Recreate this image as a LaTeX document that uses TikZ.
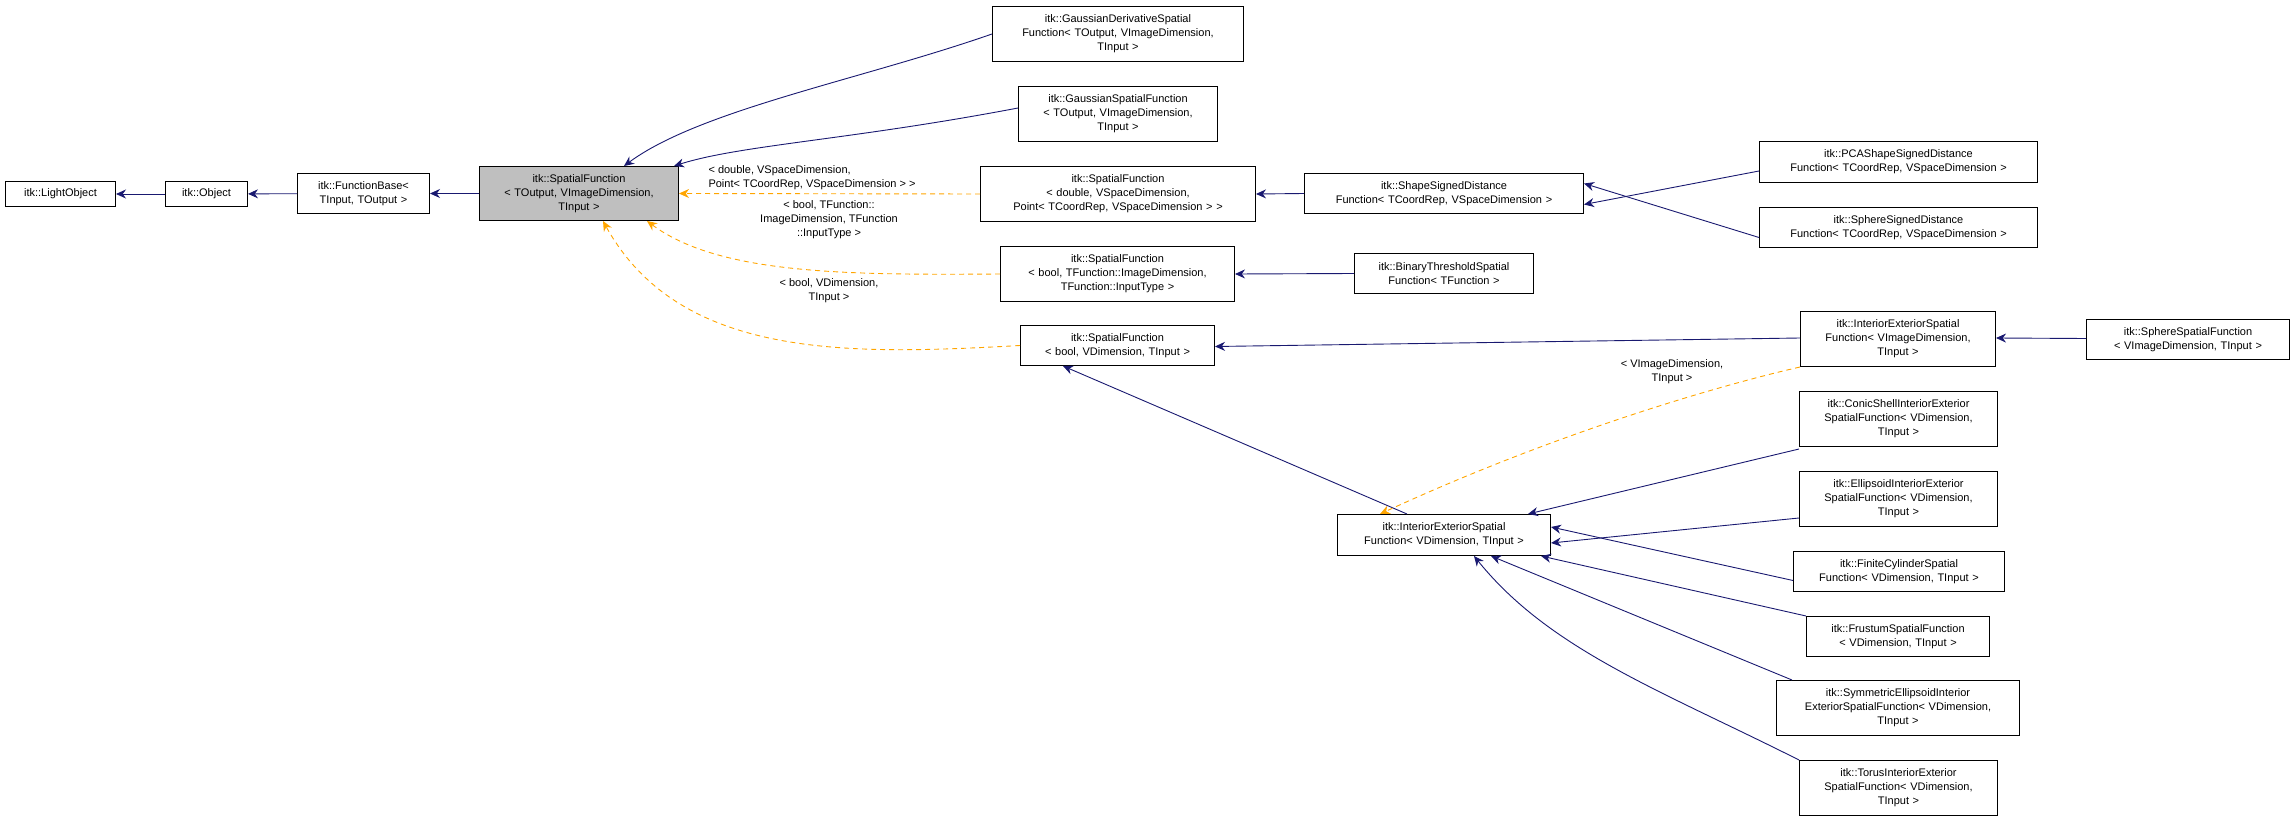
\documentclass[tikz,border=0pt]{standalone}
\usepackage{fontspec}
\setmainfont{Liberation Sans}
\usetikzlibrary{arrows.meta}
\definecolor{edge}{HTML}{191970}
\definecolor{dep}{HTML}{FFA500}
\begin{document}
\begin{tikzpicture}[x=1pt,y=-1pt,
  box/.style={draw=black,line width=1pt,fill=white,anchor=north west,align=center,inner sep=2pt,
    font=\fontsize{11}{14}\selectfont},
  inh/.style={draw=edge,line width=0.9pt,-{Stealth[length=10pt,width=9pt]}},
  tpl/.style={draw=dep,line width=0.9pt,dashed,dash pattern=on 5pt off 4pt,-{Stealth[length=10pt,width=9pt]}},
  lbl/.style={font=\fontsize{11}{14}\selectfont,align=center}]
\useasboundingbox (0,0) rectangle (2291,821);
\newcommand{\bx}[7][]{\node[box,#1,minimum width=#4pt,minimum height=#5pt,text width=#6pt] (#2) at #3 {#7};}
\bx{lo}{(5,181)}{110}{25}{100}{itk::LightObject}
\bx{obj}{(165,181)}{82}{25}{74}{itk::Object}
\bx{fb}{(297,173)}{132}{40}{124}{itk::FunctionBase\textless\\TInput, TOutput \textgreater}
\bx[fill=black!25]{main}{(479,166)}{199}{54}{190}{itk::SpatialFunction\\\textless{} TOutput, VImageDimension,\\TInput \textgreater}
\bx{gd}{(992,6)}{251}{55}{242}{itk::GaussianDerivativeSpatial\\Function\textless{} TOutput, VImageDimension,\\TInput \textgreater}
\bx{gs}{(1018,86)}{199}{55}{190}{itk::GaussianSpatialFunction\\\textless{} TOutput, VImageDimension,\\TInput \textgreater}
\bx{sfd}{(980,166)}{275}{55}{266}{itk::SpatialFunction\\\textless{} double, VSpaceDimension,\\Point\textless{} TCoordRep, VSpaceDimension \textgreater{} \textgreater}
\bx{ssd}{(1304,173)}{279}{40}{270}{itk::ShapeSignedDistance\\Function\textless{} TCoordRep, VSpaceDimension \textgreater}
\bx{pca}{(1759,141)}{278}{41}{270}{itk::PCAShapeSignedDistance\\Function\textless{} TCoordRep, VSpaceDimension \textgreater}
\bx{sph}{(1759,207)}{278}{40}{270}{itk::SphereSignedDistance\\Function\textless{} TCoordRep, VSpaceDimension \textgreater}
\bx{sfb}{(1000,246)}{234}{55}{226}{itk::SpatialFunction\\\textless{} bool, TFunction::ImageDimension,\\TFunction::InputType \textgreater}
\bx{bin}{(1354,253)}{179}{40}{171}{itk::BinaryThresholdSpatial\\Function\textless{} TFunction \textgreater}
\bx{sfv}{(1020,325)}{194}{40}{186}{itk::SpatialFunction\\\textless{} bool, VDimension, TInput \textgreater}
\bx{iei}{(1800,311)}{195}{55}{187}{itk::InteriorExteriorSpatial\\Function\textless{} VImageDimension,\\TInput \textgreater}
\bx{ssf}{(2086,319)}{203}{40}{195}{itk::SphereSpatialFunction\\\textless{} VImageDimension, TInput \textgreater}
\bx{iev}{(1337,514)}{213}{41}{205}{itk::InteriorExteriorSpatial\\Function\textless{} VDimension, TInput \textgreater}
\bx{con}{(1799,391)}{198}{55}{190}{itk::ConicShellInteriorExterior\\SpatialFunction\textless{} VDimension,\\TInput \textgreater}
\bx{ell}{(1799,471)}{198}{55}{190}{itk::EllipsoidInteriorExterior\\SpatialFunction\textless{} VDimension,\\TInput \textgreater}
\bx{fin}{(1793,551)}{211}{40}{203}{itk::FiniteCylinderSpatial\\Function\textless{} VDimension, TInput \textgreater}
\bx{fru}{(1806,616)}{183}{40}{175}{itk::FrustumSpatialFunction\\\textless{} VDimension, TInput \textgreater}
\bx{sym}{(1776,680)}{243}{55}{235}{itk::SymmetricEllipsoidInterior\\ExteriorSpatialFunction\textless{} VDimension,\\TInput \textgreater}
\bx{tor}{(1799,760)}{198}{55}{190}{itk::TorusInteriorExterior\\SpatialFunction\textless{} VDimension,\\TInput \textgreater}
% inheritance
\draw[inh] (obj) -- (lo);
\draw[inh] (fb) -- (obj);
\draw[inh] (main) -- (fb);
\draw[inh] (gd.west) .. controls (860,80) and (700,110) .. ([xshift=-55pt]main.north east);
\draw[inh] ([yshift=6pt]gs.west) .. controls (850,140) and (740,145) .. ([xshift=-5pt]main.north east);
\draw[inh] (ssd.west) -- (sfd.east);
\draw[inh] ([yshift=-9pt]pca.west) -- ([yshift=-11pt]ssd.east);
\draw[inh] ([yshift=-10pt]sph.west) -- ([yshift=10pt]ssd.east);
\draw[inh] (bin.west) -- (sfb.east);
\draw[inh] ([yshift=1pt]iei.west) -- ([yshift=-1pt]sfv.east);
\draw[inh] ([yshift=1pt]ssf.west) -- ([yshift=1pt]iei.east);
\draw[inh] ([xshift=-37pt]iev.north) -- ([xshift=43pt]sfv.south west);
\draw[inh] ([yshift=-2pt]con.south west) -- ([xshift=-23pt]iev.north east);
\draw[inh] ([yshift=-19pt]ell.west) -- ([yshift=-8pt]iev.east);
\draw[inh] ([yshift=-9pt]fin.west) -- ([yshift=8pt]iev.east);
\draw[inh] (fru.north west) -- ([xshift=-10pt]iev.south east);
\draw[inh] ([xshift=16pt]sym.north west) -- ([xshift=47pt]iev.south);
\draw[inh] (tor.north west) .. controls (1660,690) and (1550,650) .. ([xshift=30pt]iev.south);
% template instances
\draw[tpl] (sfd.west) -- (main.east);
\draw[tpl] (sfb.west) .. controls (850,275) and (720,275) .. ([xshift=-32pt]main.south east);
\draw[tpl] (sfv.west) .. controls (850,355) and (680,360) .. ([xshift=24pt]main.south);
\draw[tpl] (iei.south west) .. controls (1700,390) and (1540,440) .. ([xshift=43pt]iev.north west);
\node[lbl,align=left,anchor=west] (l1) at (705,178) {\textless{} double, VSpaceDimension,\\Point\textless{} TCoordRep, VSpaceDimension \textgreater{} \textgreater};
\node[lbl] (l2) at (829,220) {\textless{} bool, TFunction::\\ImageDimension, TFunction\\::InputType \textgreater};
\node[lbl] (l3) at (829,291) {\textless{} bool, VDimension,\\TInput \textgreater};
\node[lbl] (l4) at (1672,372) {\textless{} VImageDimension,\\TInput \textgreater};
\end{tikzpicture}
\end{document}
